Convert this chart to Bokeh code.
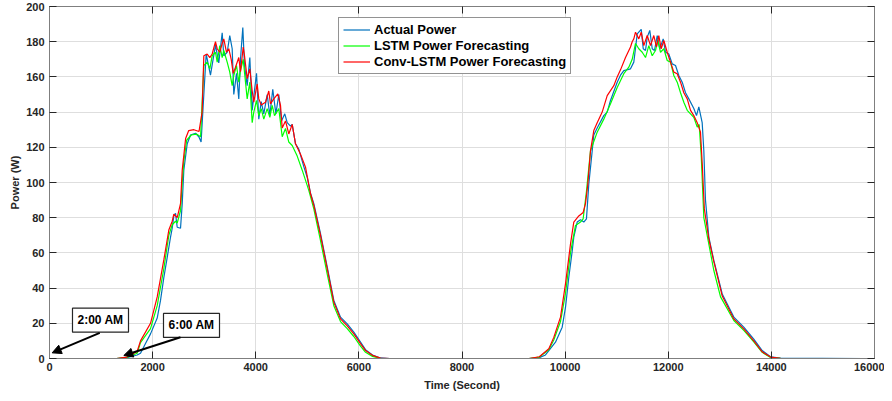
from bokeh.plotting import figure
from bokeh.models import (Range1d, FixedTicker, LinearAxis, Legend, LegendItem,
                          Label, Arrow, NormalHead)
from bokeh.embed import file_html
from bokeh.resources import INLINE

# ---------------- data ----------------
x_ticks = [0, 2000, 4000, 6000, 8000, 10000, 12000, 14000, 16000]
y_ticks = [0, 20, 40, 60, 80, 100, 120, 140, 160, 180, 200]

series_names = ["Actual Power", "LSTM Power Forecasting", "Conv-LSTM Power Forecasting"]

actual_t = [0, 1300, 1500, 1700, 1765, 1862, 1959, 2089, 2153, 2217,
            2283, 2347, 2380, 2411, 2444, 2477, 2541, 2574, 2605, 2671,
            2735, 2832, 2896, 2940, 2993, 3039, 3122, 3219, 3283, 3349,
            3380, 3446, 3496, 3543, 3574, 3627, 3671, 3704, 3749, 3782,
            3834, 3885, 3931, 3962, 4015, 4059, 4106, 4156, 4222, 4273,
            4330, 4390, 4447, 4499, 4563, 4610, 4674, 4707, 4771, 4835,
            4932, 4998, 5062, 5126, 5256, 5386, 5514, 5644, 5774, 5902,
            6032, 6129, 6264, 6419, 6600, 9300, 9500, 9619, 9684, 9813,
            9943, 10007, 10071, 10137, 10168, 10234, 10298, 10362, 10414, 10459,
            10525, 10556, 10622, 10750, 10816, 10880, 11010, 11074, 11138, 11268,
            11332, 11398, 11476, 11515, 11559, 11592, 11642, 11689, 11733, 11786,
            11836, 11902, 11947, 12011, 12077, 12141, 12205, 12271, 12335, 12399,
            12496, 12548, 12593, 12658, 12690, 12722, 12787, 12884, 13047, 13272,
            13465, 13659, 13822, 13983, 14177, 15800]
actual_p = [0, 0, 0.5, 2, 3, 8.5, 14, 23, 33, 46,
            57.5, 69, 74, 81, 82.5, 74.6, 74, 88, 107, 122,
            127, 128, 126, 123, 150, 173, 161, 178, 168, 185,
            172, 174, 183.5, 176, 150, 162, 147.5, 170, 188, 166.5,
            155, 171, 141, 149, 162, 136, 146, 139, 150, 138,
            153, 139, 150, 135, 139, 134, 132, 133, 122, 119,
            109, 103, 94, 88, 71, 52, 33, 23.5, 19.7, 15,
            9.3, 5, 2, 0.3, 0, 0, 0.5, 2, 4.5, 9.3,
            17.8, 29, 46, 61, 69, 77.5, 78.8, 77.5, 79.4, 99,
            118, 127, 131, 138, 140, 146.6, 157, 161, 163.6, 164.6,
            168.4, 184.4, 187, 176, 175, 182.6, 186.4, 176, 175, 183.5,
            176, 181.6, 174, 173, 167.4, 166.5, 160.8, 157, 151, 147.5,
            142, 138, 143, 134, 118, 90, 69, 55.7, 36.7, 23.5,
            17.8, 11, 4.5, 1, 0.2, 0]

lstm_t = [0, 1300, 1500, 1700, 1765, 1959, 2089, 2217, 2314, 2380,
          2444, 2477, 2541, 2574, 2605, 2660, 2750, 2850, 2930, 2993,
          3058, 3109, 3155, 3219, 3252, 3303, 3349, 3380, 3446, 3496,
          3543, 3574, 3627, 3671, 3704, 3757, 3782, 3834, 3885, 3931,
          3962, 4015, 4059, 4106, 4156, 4222, 4273, 4319, 4364, 4447,
          4480, 4513, 4577, 4641, 4707, 4804, 4901, 5029, 5126, 5256,
          5386, 5514, 5644, 5774, 5902, 6032, 6129, 6264, 6419, 6600,
          9300, 9500, 9684, 9780, 9910, 10007, 10104, 10201, 10298, 10350,
          10414, 10492, 10622, 10750, 10880, 11010, 11138, 11235, 11301, 11365,
          11429, 11495, 11559, 11623, 11689, 11753, 11797, 11850, 11914, 11980,
          12044, 12108, 12174, 12238, 12302, 12368, 12432, 12496, 12562, 12600,
          12640, 12690, 12787, 12884, 13014, 13272, 13465, 13659, 13822, 13983,
          14177, 15800]
lstm_p = [0, 0, 0.6, 3, 9, 17, 30, 51, 70, 76,
          78, 77, 84, 100, 112, 124, 127, 127.5, 126, 166.5,
          168.4, 164.6, 172, 174, 168.4, 177.8, 171, 175, 168.4, 162.7,
          155, 160.8, 166.5, 157, 163.6, 170, 162.7, 147.5, 157, 134,
          140, 146.6, 138, 142, 136, 142, 137, 143.8, 138, 142,
          134, 126, 130.7, 123, 121, 115, 107, 95.5, 85, 67,
          48, 30, 21, 17, 12.5, 7, 3.5, 1.2, 0.1, 0,
          0, 0.8, 5, 10.5, 21, 37, 60, 75.6, 77.5, 79.4,
          95, 118, 128.6, 136, 144.7, 154, 161.8, 165.5, 170, 179,
          176, 174, 171, 177.8, 172, 175, 180.7, 174, 176, 169.3,
          168.4, 160.8, 157, 151, 145.6, 141, 139, 137, 131.5, 133,
          115, 80, 65, 50, 35, 21.6, 16, 9.5, 3.5, 0.6,
          0.1, 0]

conv_t = [0, 1300, 1500, 1700, 1765, 1959, 2089, 2217, 2314, 2380,
          2411, 2477, 2541, 2574, 2640, 2700, 2800, 2900, 2960, 2993,
          3058, 3109, 3155, 3219, 3252, 3303, 3349, 3380, 3433, 3477,
          3524, 3563, 3607, 3671, 3704, 3757, 3782, 3834, 3885, 3931,
          3962, 4028, 4059, 4106, 4189, 4253, 4286, 4350, 4428, 4480,
          4513, 4577, 4641, 4707, 4771, 4868, 4965, 5062, 5126, 5256,
          5386, 5514, 5644, 5774, 5902, 6032, 6129, 6264, 6419, 6600,
          9300, 9500, 9684, 9780, 9910, 10007, 10104, 10168, 10265, 10350,
          10395, 10440, 10492, 10556, 10622, 10719, 10816, 10944, 11010, 11074,
          11171, 11268, 11301, 11332, 11365, 11429, 11476, 11526, 11592, 11656,
          11720, 11772, 11817, 11863, 11914, 11980, 12044, 12108, 12174, 12238,
          12302, 12368, 12432, 12496, 12562, 12625, 12660, 12700, 12787, 12884,
          13047, 13272, 13465, 13659, 13822, 13983, 14177, 15800]
conv_p = [0, 0, 0.8, 4, 10, 20, 35, 56, 73, 78,
          82, 80, 88, 107, 125, 129.5, 130, 129, 140, 172,
          173, 171, 173, 180, 176, 174, 179, 181.6, 174, 176,
          170, 162, 165.5, 171, 163, 177, 172, 159, 164.6, 152,
          145.6, 156, 147.5, 144, 145.6, 152, 144.7, 147.5, 150.4, 143.8,
          131, 135, 127.6, 133, 122, 116, 108.7, 93.6, 87, 70,
          51, 32, 22.5, 18.5, 14, 8.5, 4.5, 1.8, 0.2, 0,
          0, 1, 5.5, 12, 23.5, 42.4, 65, 77.5, 81, 83,
          88, 99, 118, 129.5, 134, 140, 149.4, 155, 160, 164,
          171, 177, 180, 181.6, 185.4, 181.6, 185.4, 177.8, 183.5, 177.8,
          183.5, 177, 183.5, 176, 180.7, 174, 168.4, 162.7, 161.8, 157,
          151, 147.5, 141, 138, 134, 128.6, 110, 85, 68, 55,
          35.5, 22.5, 16.8, 10, 3.8, 0.8, 0.1, 0]

# ---------------- styling ----------------
FONT = "Liberation Sans"
DARK = "#262626"
BLUE = "#0072BD"
GREEN = "#00FF00"
RED = "#FF0000"

p = figure(frame_width=825, frame_height=352, output_backend="svg",
           toolbar_location=None, x_range=Range1d(0, 16000), y_range=Range1d(0, 200),
           min_border_left=49, min_border_right=10, min_border_top=6,
           min_border_bottom=35)
p.background_fill_color = "white"
p.border_fill_color = "white"
p.outline_line_color = "#7f7f7f"
p.outline_line_width = 1

p.xaxis.ticker = FixedTicker(ticks=x_ticks)
p.yaxis.ticker = FixedTicker(ticks=y_ticks)
p.xgrid.ticker = FixedTicker(ticks=x_ticks)
p.ygrid.ticker = FixedTicker(ticks=y_ticks)
p.grid.grid_line_color = "#dedede"
p.grid.grid_line_width = 1

for ax in (p.xaxis[0], p.yaxis[0]):
    ax.major_tick_in = 7
    ax.major_tick_out = 0
    ax.minor_tick_line_color = None
    ax.axis_line_color = "#7f7f7f"
    ax.major_tick_line_color = DARK
    ax.major_label_text_font = FONT
    ax.major_label_text_font_style = "bold"
    ax.major_label_text_font_size = "11px"
    ax.major_label_text_color = DARK
    ax.axis_label_text_font = FONT
    ax.axis_label_text_font_style = "bold"
    ax.axis_label_text_font_size = "11px"
    ax.axis_label_text_color = DARK
p.xaxis.axis_label = "Time (Second)"
p.yaxis.axis_label = "Power (W)"
p.xaxis.major_label_standoff = 4
p.yaxis.major_label_standoff = 5
p.xaxis.axis_label_standoff = 5
p.yaxis.axis_label_standoff = 2

# mirrored ticks on top and right (box on)
for loc, tk in (("above", x_ticks), ("right", y_ticks)):
    ax = LinearAxis(ticker=FixedTicker(ticks=tk))
    ax.major_tick_in = 7
    ax.major_tick_out = 0
    ax.minor_tick_line_color = None
    ax.axis_line_color = "#7f7f7f"
    ax.major_tick_line_color = DARK
    ax.major_label_text_color = None
    ax.major_label_text_font_size = "0px"
    ax.major_label_standoff = 0
    p.add_layout(ax, loc)

r_act = p.line(actual_t, actual_p, line_color=BLUE, line_width=1.2)
r_lstm = p.line(lstm_t, lstm_p, line_color=GREEN, line_width=1.2)
r_conv = p.line(conv_t, conv_p, line_color=RED, line_width=1.2)

legend = Legend(items=[LegendItem(label=series_names[0], renderers=[r_act]),
                       LegendItem(label=series_names[1], renderers=[r_lstm]),
                       LegendItem(label=series_names[2], renderers=[r_conv])],
                location=(289, 284))
legend.label_text_font = FONT
legend.label_text_font_style = "bold"
legend.label_text_font_size = "13px"
legend.label_text_color = "black"
legend.label_height = 15
legend.glyph_height = 15
legend.glyph_width = 27
legend.label_standoff = 4
legend.spacing = 1
legend.padding = 4
legend.margin = 0
legend.border_line_color = DARK
legend.border_line_width = 1
legend.background_fill_color = "white"
legend.background_fill_alpha = 1
p.add_layout(legend, "center")

# annotations
for txt, lx, ly, xs, ys, xe, ye in (("2:00 AM", 989, 21.8, 975, 14.6, 52, 3.2),
                                     ("6:00 AM", 2754, 18.8, 2540, 12.1, 1441, 1.7)):
    p.add_layout(Label(x=lx, y=ly, text=txt, text_font=FONT, text_font_style="bold",
                       text_font_size="12px", text_color="black", text_align="center",
                       text_baseline="middle", background_fill_color="white",
                       border_line_color=DARK, border_line_width=1.2, padding=5))
    p.add_layout(Arrow(end=NormalHead(size=9, fill_color="black", line_color="black"),
                       x_start=xs, y_start=ys, x_end=xe, y_end=ye,
                       line_color="black", line_width=2))

open("out.html", "w").write(file_html(p, INLINE))
